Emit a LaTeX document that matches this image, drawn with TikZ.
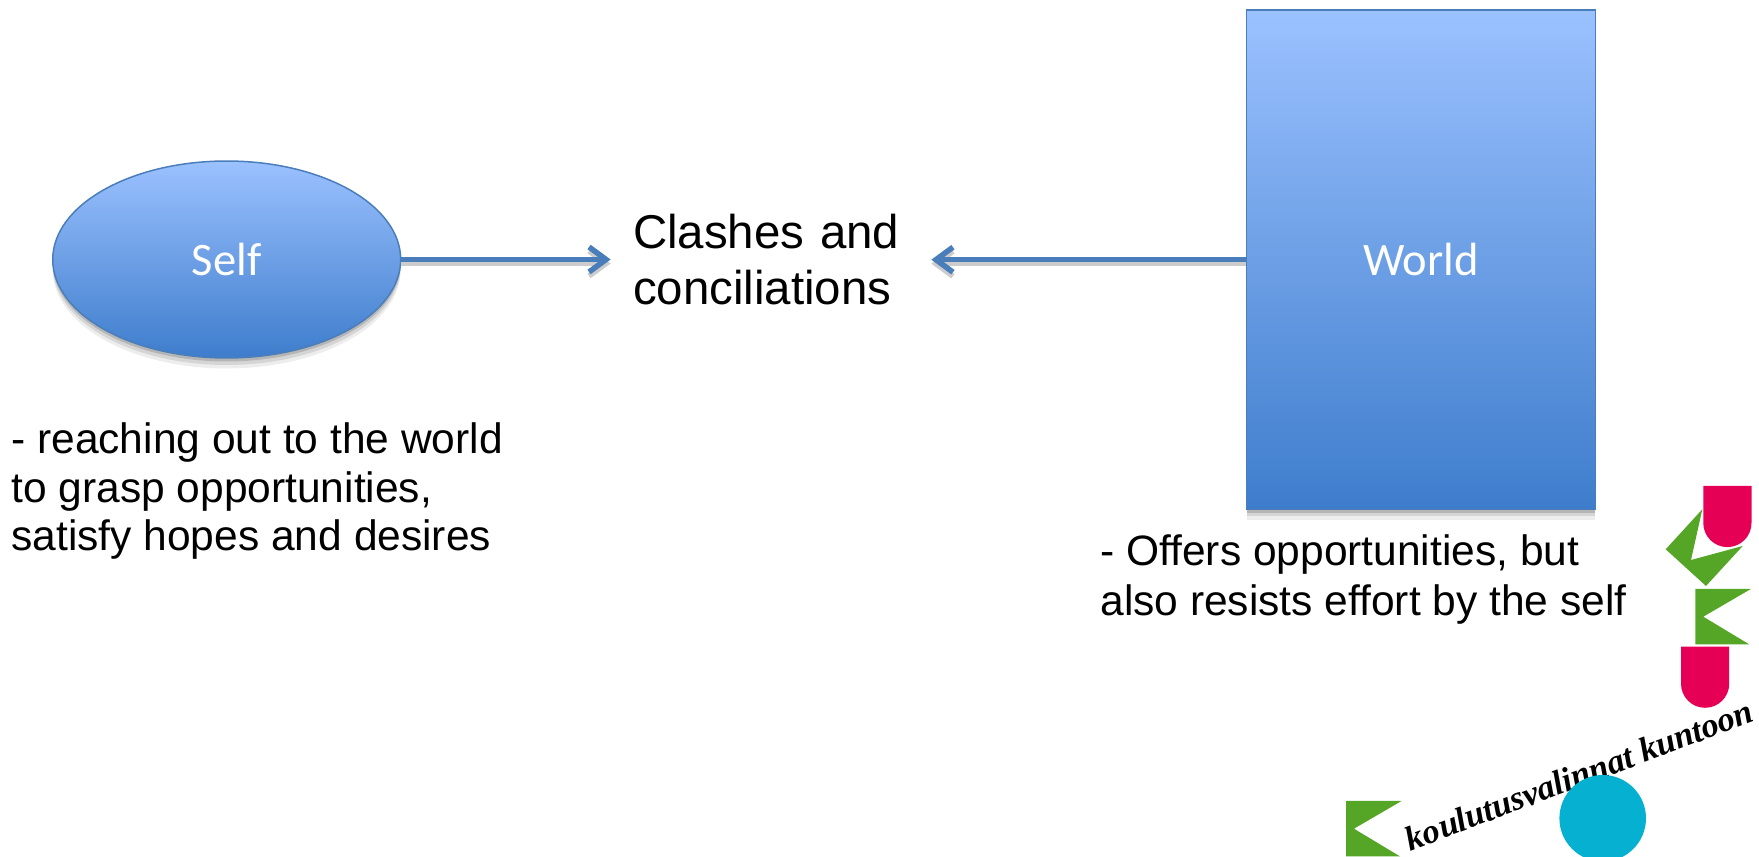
\documentclass[tikz,border=0pt]{standalone}
\usepackage{fontspec}
\setmainfont{Liberation Sans}
\newfontfamily\calibrifont{Carlito}
\newfontfamily\logofont{Liberation Serif}
\usepackage{tikz}
\usetikzlibrary{calc,positioning,arrows.meta,shapes,shadows}
\definecolor{boxtop}{HTML}{9BC1FF}
\definecolor{boxbottom}{HTML}{3E7DCC}
\definecolor{boxline}{HTML}{4A7EBB}
\definecolor{logogreen}{HTML}{55A626}
\definecolor{logopink}{HTML}{E50056}
\definecolor{logoblue}{HTML}{05B0D0}
\tikzstyle{softdrop}  = [drop shadow={shadow xshift=0cm,shadow yshift=-0.21cm,opacity=0.07,fill=black}, drop shadow={shadow xshift=0cm,shadow yshift=-0.14cm,opacity=0.1,fill=black}, drop shadow={shadow xshift=0cm,shadow yshift=-0.07cm,opacity=0.15,fill=black}]
\tikzstyle{blob}      = [inner sep=0pt, draw=boxline, line width=0.03cm, top color=boxtop, bottom color=boxbottom, text=white, softdrop, font=\calibrifont\fontsize{26.5}{32}\selectfont]
\tikzstyle{note}      = [inner sep=0pt, anchor=north west, align=left, font=\fontsize{24.2}{27.8}\selectfont]
\tikzstyle{arrow}     = [line width=0.11cm, draw=boxline, -{Straight Barb[length=0.34cm,width=0.5cm,line width=0.11cm]}, preaction={draw=black!20, line width=0.09cm, transform canvas={yshift=-0.08cm}}]
\tikzstyle{green}     = [fill=logogreen]
\tikzstyle{pink}      = [fill=logopink]

\begin{document}
\begin{tikzpicture}[x=0.02cm,y=-0.02cm]
		\clip (0,0) rectangle (1759,857);

		\node[blob, ellipse, minimum width=6.96cm, minimum height=3.94cm] (self) at (226.7,259.5) {Self};
		\node[blob, rectangle, minimum width=6.98cm, minimum height=9.99cm] (world) at (1421,259.7) {World};
		\node[inner xsep=0.44cm, inner ysep=0pt, text width=5.52cm, align=left, font=\fontsize{27}{32}\selectfont] (clashes) at (771,259.5) {Clashes and\\conciliations};

		\draw[arrow] (self.east) -- (self.east -| clashes.west);
		\draw[arrow] (world.west) -- (world.west -| clashes.east);

		\node[note] (selfnote) at (11,422) {- reaching out to the world\\to grasp opportunities,\\satisfy hopes and desires};
		\node[note, font=\fontsize{24.2}{28.6}\selectfont] (worldnote) at (1100,534) {- Offers opportunities, but\\also resists effort by the self};

		% logo
		\foreach \x/\y in {1703.3/486,1681/646.7} {
			\fill[pink] (\x,\y) -- ++(48.2,0) -- ++(0,37) arc (0:180:24.1) -- cycle;
		}
		\fill[green] (1665.7,549.3) -- (1702.3,509.3) -- (1691,560) -- (1742.7,546) -- (1706,586) -- cycle;
		\foreach \x/\y in {1695.3/589,1346/801} {
			\fill[green] (\x,\y) -- ++(55.5,0) -- ++(-47.5,27.7) -- ++(46,27.7) -- ++(-54,0) -- cycle;
		}
		\node[rotate=20.7, inner sep=0pt, font=\logofont\bfseries\itshape\fontsize{19.6}{24}\selectfont] (logotext) at (1579,775) {koulutusvalinnat kuntoon};
		\fill[logoblue] (1602.7,818.3) circle (43.3);
\end{tikzpicture}
\end{document}
